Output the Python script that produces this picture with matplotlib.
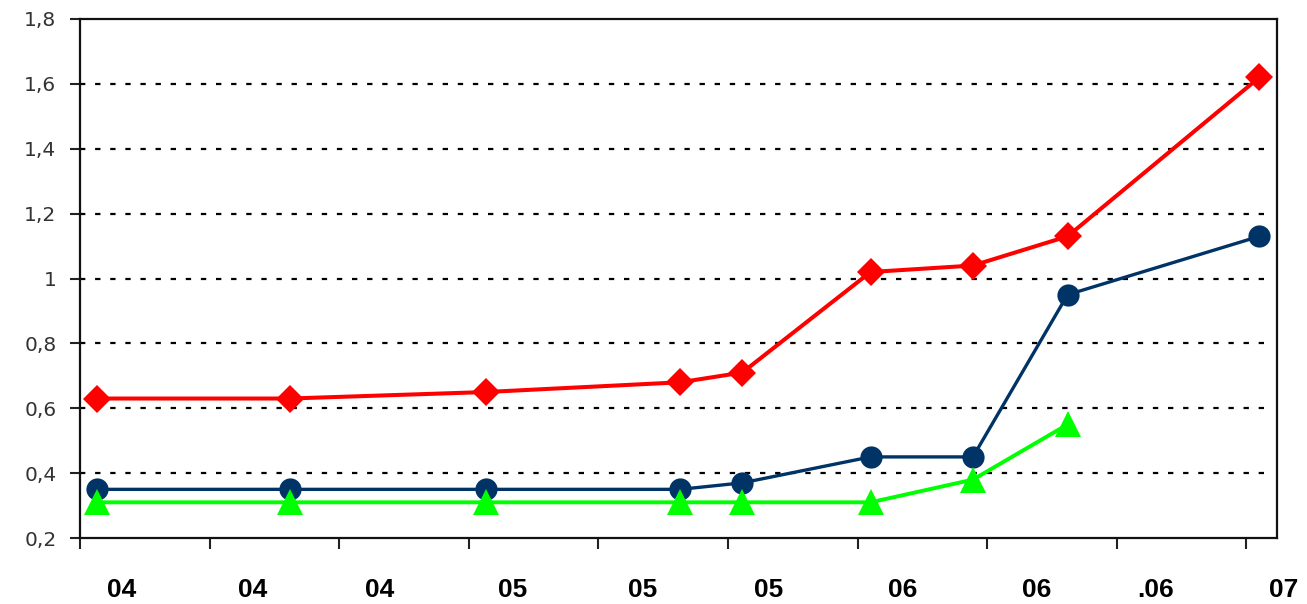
import matplotlib
matplotlib.use("Agg")
import matplotlib.pyplot as plt
import matplotlib.transforms as mtransforms
from matplotlib.ticker import FixedLocator

# ---- data ----
x_pos = [0.13, 1.62, 3.13, 4.63, 5.11, 6.10, 6.89, 7.62, 9.10]
red_vals = [0.63, 0.63, 0.65, 0.68, 0.71, 1.02, 1.04, 1.13, 1.62]
blue_vals = [0.35, 0.35, 0.35, 0.35, 0.37, 0.45, 0.45, 0.95, 1.13]
green_vals = [0.31, 0.31, 0.31, 0.31, 0.31, 0.31, 0.38, 0.55]
x_label_pos = [0.32, 1.33, 2.31, 3.34, 4.34, 5.31, 6.35, 7.38, 8.30, 9.29]
x_labels = ["04", "04", "04", "05", "05", "05", "06", "06", ".06", "07"]
y_ticks = [0.2, 0.4, 0.6, 0.8, 1.0, 1.2, 1.4, 1.6, 1.8]
y_labels = ["0,2", "0,4", "0,6", "0,8", "1", "1,2", "1,4", "1,6", "1,8"]

W, H = 1307, 604
fig = plt.figure(figsize=(W / 100, H / 100), dpi=100)
fig.patch.set_facecolor("white")
ax = fig.add_axes([80 / W, (H - 538) / H, (1277 - 80) / W, (538 - 19) / H])

for yv in y_ticks[1:-1]:
    ax.axhline(yv, xmin=0, xmax=(1268 - 80) / (1277 - 80), color="black",
               lw=1.6, linestyle=(0, (2.4, 4.4)), zorder=1)

ax.plot(x_pos, red_vals, color="#ff0000", lw=2.9, marker="D", ms=14,
        markeredgewidth=0, zorder=3, clip_on=False)
ax.plot(x_pos, blue_vals, color="#003366", lw=2.4, marker="o", ms=16,
        markeredgewidth=0, zorder=3, clip_on=False)
ax.plot(x_pos[:len(green_vals)], green_vals, color="#00ff00", lw=2.8,
        marker="^", ms=19, markeredgewidth=0, zorder=4, clip_on=False)

ax.set_xlim(0, 1197 / 129.6)
ax.set_ylim(0.2, 1.8)

ax.set_yticks(y_ticks)
ax.set_yticklabels(y_labels, fontsize=14.5, color="#333333",
                   family=["DejaVu Sans"])
ax.tick_params(axis="y", length=7, width=1.5, direction="out", pad=10,
               colors="#222222", labelcolor="#333333")

ax.xaxis.set_major_locator(FixedLocator(list(range(10))))
ax.xaxis.set_major_formatter(plt.NullFormatter())
ax.tick_params(axis="x", which="major", length=8, width=1.5, direction="out",
               colors="#222222")

trans = mtransforms.blended_transform_factory(ax.transData, fig.transFigure)
for xp, lab in zip(x_label_pos, x_labels):
    ax.text(xp, 1 - 590 / H, lab, transform=trans, ha="center", va="center",
            fontsize=19, fontweight="bold", clip_on=False,
            family=["Liberation Sans Narrow", "Liberation Sans", "DejaVu Sans"])

for s in ax.spines.values():
    s.set_linewidth(1.6)
    s.set_color("#111111")

fig.savefig("out.png", dpi=100)
